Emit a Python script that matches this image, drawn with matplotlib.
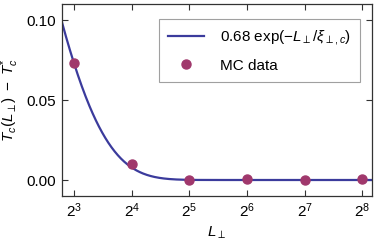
import numpy as np
import matplotlib
matplotlib.use("Agg")
import matplotlib.pyplot as plt

plt.rcParams['font.family'] = ['Liberation Sans', 'DejaVu Sans']
plt.rcParams['mathtext.fontset'] = 'custom'
plt.rcParams['mathtext.rm'] = 'Liberation Sans'
plt.rcParams['mathtext.it'] = 'Liberation Sans:italic'
plt.rcParams['mathtext.sf'] = 'Liberation Sans'

L_data = [8, 16, 32, 64, 128, 256]
T_data = [0.073, 0.0102, 0.0, 0.0004, 0.0, 0.0007]
amp = 0.68
xi = 3.58
tick_exps = [3, 4, 5, 6, 7, 8]
yticks = [0.0, 0.05, 0.10]

fig = plt.figure(figsize=(3.74, 2.45), dpi=100)
ax = fig.add_axes([62/374, 1-196/245, (372-62)/374, (196-4)/245])

Lc = np.logspace(np.log2(2**2.78), np.log2(2**8.2), 400, base=2)
ax.plot(Lc, amp*np.exp(-Lc/xi), color='#3b3b9c', lw=1.6,
        label=r'0.68 exp($-L_{\perp}/\xi_{\perp,c}$)')
ax.plot(L_data, T_data, 'o', color='#a0386c', ms=6.5, ls='none', label='MC data')

ax.set_xscale('log', base=2)
ax.set_xlim(2**2.79, 2**8.17)
ax.set_ylim(-0.01, 0.11)
ax.set_xticks([2**e for e in tick_exps])
ax.set_xticklabels([r'$\mathregular{2^{%d}}$' % e for e in tick_exps])
ax.xaxis.set_minor_locator(matplotlib.ticker.NullLocator())
ax.set_yticks(yticks)
ax.set_yticklabels(['0.00', '0.05', '0.10'])
ax.tick_params(direction='in', top=True, right=True, labelsize=11, length=4,
               width=0.8, color='#333333', pad=4)
for s in ax.spines.values():
    s.set_color('#333333')
    s.set_linewidth(0.9)
ax.set_xlabel(r'$L_{\perp}$', fontsize=11, labelpad=3)
ax.set_ylabel(r'$T_c(L_{\perp})\ -\ T_c^{*}$', fontsize=11, labelpad=4)

leg = ax.legend(loc='upper right', bbox_to_anchor=(0.961, 0.922), fontsize=11,
                frameon=True, fancybox=False, edgecolor='#888888',
                handlelength=2.4, handletextpad=1.0, borderpad=0.6,
                labelspacing=0.75, borderaxespad=0)
leg.get_frame().set_linewidth(0.8)

fig.savefig('out.png', dpi=100)
